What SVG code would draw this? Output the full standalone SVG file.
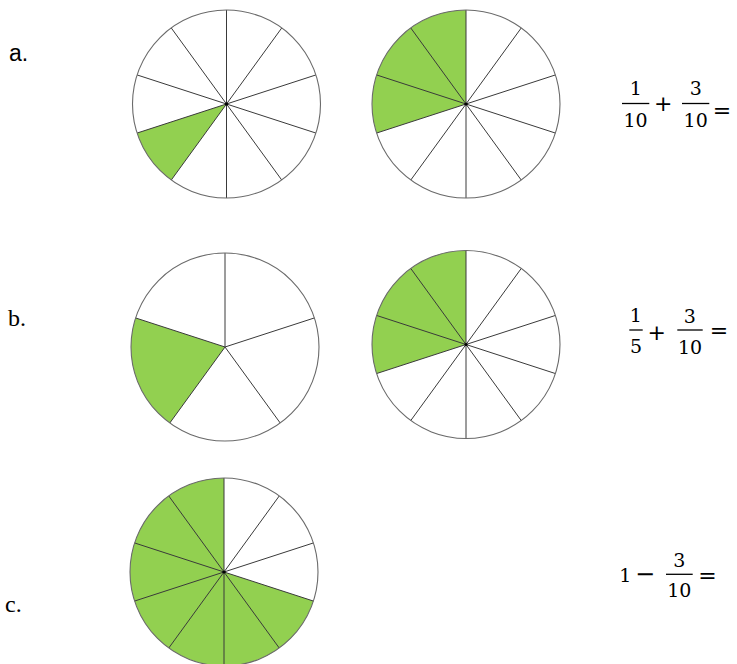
<svg xmlns="http://www.w3.org/2000/svg" xmlns:xlink="http://www.w3.org/1999/xlink" width="737" height="664" viewBox="0 0 737 664">
<style>
.bg{fill:#ffffff}
.sh{fill:#92D050;stroke:none}
.sp{stroke:#3a3a3a;stroke-width:1;fill:none}
.ol{fill:none;stroke:#6a6a6a;stroke-width:1.1}
.dot{fill:#000}
.lbA{font-family:"Liberation Sans",Arial,sans-serif;font-size:23px;fill:#000}
.lbB{font-family:"Liberation Serif","Times New Roman",serif;font-size:24px;fill:#000}
.num{font-family:"DejaVu Serif","Liberation Serif",serif;font-size:19px;fill:#000;text-anchor:middle}
.op{font-family:"DejaVu Sans","Liberation Sans",sans-serif;font-size:22px;fill:#000;text-anchor:middle}
.bar{stroke:#000;stroke-width:1.3}
</style>
<defs>
<circle id="disc" r="94" class="bg"/>
<circle id="rim" r="94" class="ol"/>
<path id="spokes10" class="sp" d="M0,-94L0,94M55.25,-76.05L-55.25,76.05M89.4,-29.05L-89.4,29.05M89.4,29.05L-89.4,-29.05M55.25,76.05L-55.25,-76.05"/>
<path id="spokes5" class="sp" d="M0,0L0,-94M0,0L89.4,-29.05M0,0L55.25,76.05M0,0L-55.25,76.05M0,0L-89.4,-29.05"/>
</defs>

<g id="label-a"><text class="lbA" x="9" y="61">a.</text></g>
<g id="label-b"><text class="lbB" x="8" y="326">b.</text></g>
<g id="label-c"><text class="lbB" x="5" y="612">c.</text></g>

<g id="circle-a1" transform="translate(226.5,104)">
<use xlink:href="#disc"/>
<path class="sh" d="M0,0L-55.25,76.05A94,94 0 0 1 -89.4,29.05Z"/>
<use xlink:href="#spokes10"/>
<use xlink:href="#rim"/>
<circle class="dot" r="1.6"/>
</g>

<g id="circle-a2" transform="translate(466,104)">
<use xlink:href="#disc"/>
<path class="sh" d="M0,0L-89.4,29.05A94,94 0 0 1 0,-94Z"/>
<use xlink:href="#spokes10"/>
<use xlink:href="#rim"/>
<circle class="dot" r="1.6"/>
</g>

<g id="circle-b1" transform="translate(225,347)">
<use xlink:href="#disc"/>
<path class="sh" d="M0,0L-55.25,76.05A94,94 0 0 1 -89.4,-29.05Z"/>
<use xlink:href="#spokes5"/>
<use xlink:href="#rim"/>
</g>

<g id="circle-b2" transform="translate(466,344.5)">
<use xlink:href="#disc"/>
<path class="sh" d="M0,0L-89.4,29.05A94,94 0 0 1 0,-94Z"/>
<use xlink:href="#spokes10"/>
<use xlink:href="#rim"/>
<circle class="dot" r="1.6"/>
</g>

<g id="circle-c" transform="translate(224,572)">
<use xlink:href="#disc"/>
<path class="sh" d="M0,0L89.4,29.05A94,94 0 1 1 0,-94Z"/>
<use xlink:href="#spokes10"/>
<use xlink:href="#rim"/>
<circle class="dot" r="1.6"/>
</g>

<g id="expr-a">
<text class="num" x="635.7" y="94.5">1</text>
<line class="bar" x1="622" y1="103.5" x2="649.3" y2="103.5"/>
<text class="num" x="635.5" y="126.7">10</text>
<text class="op" x="663.3" y="110.6">+</text>
<text class="num" x="695.7" y="94.5">3</text>
<line class="bar" x1="682" y1="103.5" x2="709.3" y2="103.5"/>
<text class="num" x="695.7" y="126.7">10</text>
<text class="op" x="722" y="118">=</text>
</g>

<g id="expr-b">
<text class="num" x="635.7" y="321.7">1</text>
<line class="bar" x1="629.3" y1="330" x2="642.7" y2="330"/>
<text class="num" x="636" y="353.3">5</text>
<text class="op" x="656.7" y="339.6">+</text>
<text class="num" x="689.8" y="322.8">3</text>
<line class="bar" x1="677.3" y1="330" x2="702.7" y2="330"/>
<text class="num" x="690" y="354.2">10</text>
<text class="op" x="719" y="338.3">=</text>
</g>

<g id="expr-c">
<text class="num" x="625.3" y="581.7">1</text>
<text class="op" x="645" y="581.8" style="font-size:24px">−</text>
<text class="num" x="679.3" y="566.7">3</text>
<line class="bar" x1="666" y1="574.3" x2="692.7" y2="574.3"/>
<text class="num" x="679.3" y="596.7">10</text>
<text class="op" x="707.5" y="583">=</text>
</g>
</svg>
